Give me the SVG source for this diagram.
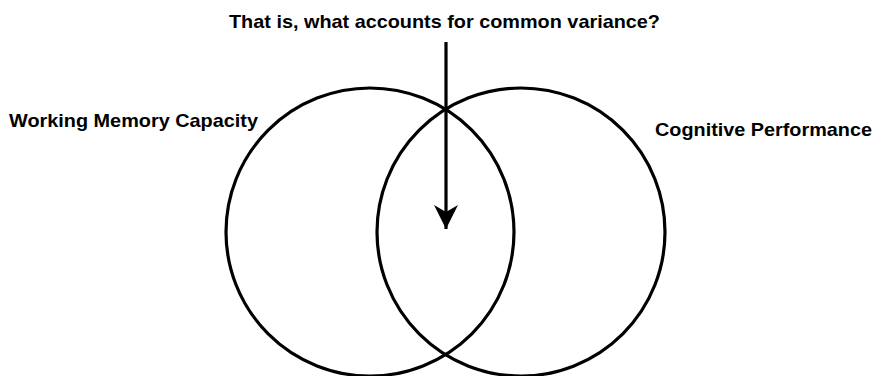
<svg xmlns="http://www.w3.org/2000/svg" width="876" height="376" viewBox="0 0 876 376">
<style>
.lbl{font-family:"Liberation Sans",Arial,sans-serif;font-weight:bold;font-size:19px;fill:#000}
.ring{fill:none;stroke:#000;stroke-width:3.2}
.conn{stroke:#000;stroke-width:3.2;fill:none}
</style>
<defs>
<marker id="ah" markerUnits="userSpaceOnUse" markerWidth="26" markerHeight="26" refX="24" refY="12" orient="auto">
<path d="M0,0 L24,12 L0,24 L7,12 Z" fill="#000"/>
</marker>
</defs>
<rect width="876" height="376" fill="#fff"/>
<g id="title"><text class="lbl" x="229" y="28" textLength="431" lengthAdjust="spacingAndGlyphs">That is, what accounts for common variance?</text></g>
<g id="wmc">
<circle class="ring" cx="370" cy="232" r="144"/>
<text class="lbl" x="9" y="127" textLength="249" lengthAdjust="spacingAndGlyphs">Working Memory Capacity</text>
</g>
<g id="cp">
<circle class="ring" cx="521" cy="232" r="144"/>
<text class="lbl" x="655" y="136" textLength="217" lengthAdjust="spacingAndGlyphs">Cognitive Performance</text>
</g>
<g id="connectors">
<line class="conn" x1="446" y1="42" x2="446" y2="229" marker-end="url(#ah)"/>
</g>
</svg>
